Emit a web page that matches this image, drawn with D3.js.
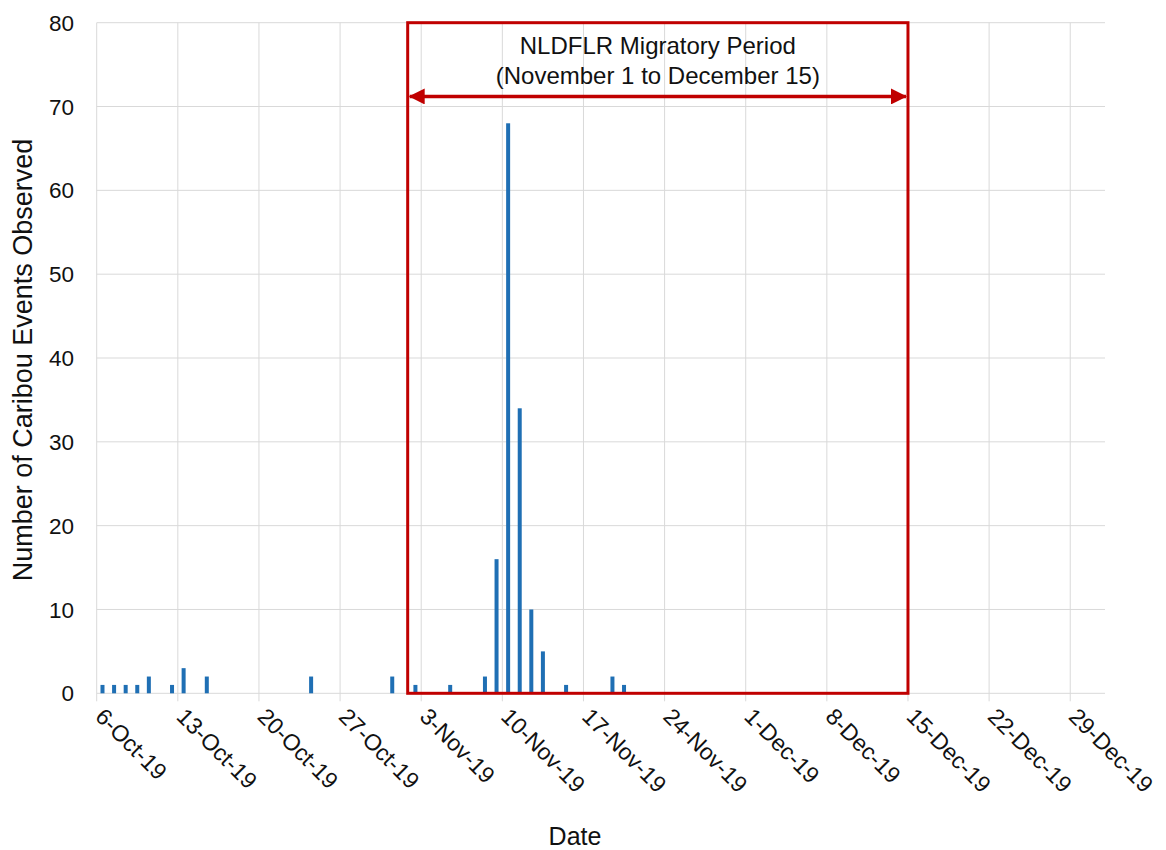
<!DOCTYPE html>
<html><head><meta charset="utf-8">
<script src="https://cdn.jsdelivr.net/npm/d3@7"></script>
<style>
html,body{margin:0;padding:0;background:#fff;}
svg{display:block;font-family:"Liberation Sans",Arial,sans-serif;}
</style></head>
<body><svg id="chart" width="1166" height="850"></svg>
<script>
const eventDates = ["2019-10-06","2019-10-07","2019-10-08","2019-10-09","2019-10-10","2019-10-12","2019-10-13","2019-10-15","2019-10-24","2019-10-31","2019-11-02","2019-11-05","2019-11-08","2019-11-09","2019-11-10","2019-11-11","2019-11-12","2019-11-13","2019-11-15","2019-11-19","2019-11-20"];
const eventCounts = [1,1,1,1,2,1,3,2,2,2,1,1,2,16,68,34,10,5,1,2,1];
const xDomain = ["2019-10-06","2020-01-01"];
const tickDates = ["2019-10-06","2019-10-13","2019-10-20","2019-10-27","2019-11-03","2019-11-10","2019-11-17","2019-11-24","2019-12-01","2019-12-08","2019-12-15","2019-12-22","2019-12-29"];
const yTicks = [0,10,20,30,40,50,60,70,80];
const periodStart = "2019-11-01T20:00:00Z";
const periodEnd = "2019-12-15";
const arrowValue = 71.2;
const periodLines = ["NLDFLR Migratory Period", "(November 1 to December 15)"];
const xTitle = "Date";
const yTitle = "Number  of Caribou Events Observed";

(function () {
const parse = s => new Date(s.length > 10 ? s : s + "T00:00:00Z");
const svg = d3.select("#chart");
const pL = 96.7, pR = 1105, pT = 22.7, pB = 693.3;

const x = d3.scaleUtc().domain(xDomain.map(parse)).range([pL, pR]);
const y = d3.scaleLinear().domain([0, 80]).range([pB, pT]);
const fmt = d3.utcFormat("%-d-%b-%y");
const grid = "#d9d9d9";
const ink = "#111";

// horizontal gridlines
svg.append("g").selectAll("line").data(yTicks).join("line")
  .attr("x1", pL).attr("x2", pR)
  .attr("y1", d => y(d)).attr("y2", d => y(d))
  .attr("stroke", grid).attr("stroke-width", 1);

// vertical gridlines + tick marks
svg.append("g").selectAll("line").data(tickDates.map(parse)).join("line")
  .attr("x1", d => x(d)).attr("x2", d => x(d))
  .attr("y1", pT).attr("y2", pB + 8)
  .attr("stroke", grid).attr("stroke-width", 1);

// y tick labels
svg.append("g").selectAll("text").data(yTicks).join("text")
  .attr("x", 74).attr("y", d => y(d)).attr("dy", "0.36em")
  .attr("text-anchor", "end").attr("font-size", 22.5).attr("fill", ink)
  .text(d => d);

// x tick labels (rotated)
svg.append("g").selectAll("text").data(tickDates.map(parse)).join("text")
  .attr("transform", d => `translate(${x(d) + 3},${pB + 19}) rotate(45)`)
  .attr("dy", "0.35em")
  .attr("text-anchor", "start").attr("font-size", 23).attr("fill", ink)
  .text(d => fmt(d));

// bars
const day = 86400000;
const barW = 4;
svg.append("g").selectAll("rect").data(eventDates.map((d, i) => ({d: parse(d), v: eventCounts[i]}))).join("rect")
  .attr("x", d => x(new Date(+d.d + day / 2)) - barW / 2)
  .attr("width", barW)
  .attr("y", d => y(d.v))
  .attr("height", d => y(0) - y(d.v))
  .attr("fill", "#1f6fb4");

// period annotation box
const red = "#c00000";
const bx0 = x(parse(periodStart)), bx1 = x(parse(periodEnd));
svg.append("rect")
  .attr("x", bx0).attr("y", y(80))
  .attr("width", bx1 - bx0).attr("height", y(0) - y(80))
  .attr("fill", "none").attr("stroke", red).attr("stroke-width", 3);

const defs = svg.append("defs");
defs.append("marker").attr("id", "ah").attr("viewBox", "0 0 16 16")
  .attr("refX", 15).attr("refY", 8).attr("markerWidth", 16).attr("markerHeight", 16)
  .attr("markerUnits", "userSpaceOnUse").attr("orient", "auto-start-reverse")
  .append("path").attr("d", "M0,0 L16,8 L0,16 Z").attr("fill", red);

svg.append("line")
  .attr("x1", bx0 + 2).attr("x2", bx1 - 2)
  .attr("y1", y(arrowValue)).attr("y2", y(arrowValue))
  .attr("stroke", red).attr("stroke-width", 3.5)
  .attr("marker-start", "url(#ah)").attr("marker-end", "url(#ah)");

const cx = (bx0 + bx1) / 2;
svg.append("text").attr("x", cx).attr("y", y(80) + 31)
  .attr("text-anchor", "middle").attr("font-size", 24).attr("fill", ink)
  .text(periodLines[0]);
svg.append("text").attr("x", cx).attr("y", y(80) + 61)
  .attr("text-anchor", "middle").attr("font-size", 24).attr("fill", ink)
  .text(periodLines[1]);

// axis titles
svg.append("text").attr("x", 575).attr("y", 845)
  .attr("text-anchor", "middle").attr("font-size", 25).attr("fill", ink)
  .text(xTitle);
svg.append("text").attr("transform", `translate(32,${(135 + 585) / 2}) rotate(-90)`)
  .attr("text-anchor", "middle").attr("font-size", 27).attr("fill", ink)
  .text(yTitle);
})();
</script></body></html>
